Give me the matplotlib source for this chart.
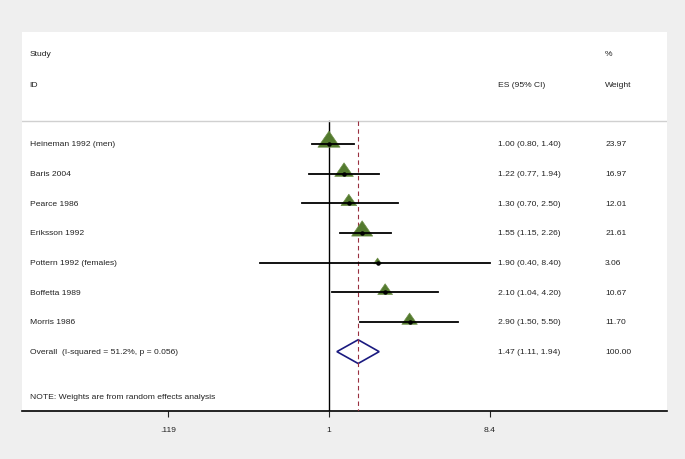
import matplotlib.pyplot as plt
import matplotlib.transforms as mtransforms
from matplotlib.path import Path
import numpy as np

# данные форест-плота
studies = ['Heineman 1992 (men)', 'Baris 2004', 'Pearce 1986', 'Eriksson 1992',
           'Pottern 1992 (females)', 'Boffetta 1989', 'Morris 1986']
es = [1.00, 1.22, 1.30, 1.55, 1.90, 2.10, 2.90]
lo = [0.80, 0.77, 0.70, 1.15, 0.40, 1.04, 1.50]
hi = [1.40, 1.94, 2.50, 2.26, 8.40, 4.20, 5.50]
weights = [23.97, 16.97, 12.01, 21.61, 3.06, 10.67, 11.70]
overall_label = 'Overall  (I-squared = 51.2%, p = 0.056)'
overall = [1.47, 1.11, 1.94]
xticks = [0.119, 1, 8.4]
xtick_labels = ['.119', '1', '8.4']

plt.rcParams['font.family'] = ['Liberation Sans', 'DejaVu Sans']

fig = plt.figure(figsize=(6.85, 4.6), dpi=100, facecolor='#efefef')
ax = fig.add_axes([22/685, 48/460, 645/685, 379/460])
ax.set_facecolor('white')
ax.set_xscale('log')
ax.set_xlim(np.exp(-4.055), np.exp(4.465))
ax.set_ylim(9.0, -3.77)

txt = dict(fontsize=6.1, color='#222222', va='center')
blend = mtransforms.blended_transform_factory(ax.transAxes, ax.transData)

# шапка
ax.text(0.012, -3.06, 'Study', transform=blend, **txt)
ax.text(0.012, -2.0, 'ID', transform=blend, **txt)
ax.text(0.738, -2.0, 'ES (95% CI)', transform=blend, **txt)
ax.text(0.904, -3.06, '%', transform=blend, **txt)
ax.text(0.904, -2.0, 'Weight', transform=blend, **txt)
ax.axhline(-0.77, color='#d0d0d0', lw=1)

rows = np.arange(len(studies))
for i in rows:
    ax.text(0.012, i, studies[i], transform=blend, **txt)
    ax.text(0.738, i, '%.2f (%.2f, %.2f)' % (es[i], lo[i], hi[i]), transform=blend, **txt)
    ax.text(0.904, i, '%.2f' % weights[i], transform=blend, **txt)
    ax.plot([lo[i], hi[i]], [i, i], color='black', lw=1.3, zorder=4)

# треугольник с центром ближе к основанию, площадь ~ вес
tri = Path([(-1, -0.3), (1, -0.3), (0, 1.15), (-1, -0.3)],
           [Path.MOVETO, Path.LINETO, Path.LINETO, Path.CLOSEPOLY])
ax.scatter(es, rows, marker=tri, s=[w * 14 for w in weights],
           color='#537a2e', edgecolors='#6f8f4a', linewidths=0.5, zorder=3)
ax.scatter(es, rows, marker='o', s=5, color='black', zorder=5)

# итог
k = len(studies)
ax.text(0.012, k, overall_label, transform=blend, **txt)
ax.text(0.738, k, '%.2f (%.2f, %.2f)' % tuple(overall), transform=blend, **txt)
ax.text(0.904, k, '100.00', transform=blend, **txt)
ax.fill([overall[1], overall[0], overall[2], overall[0], overall[1]],
        [k, k - 0.4, k, k + 0.4, k], facecolor='white', edgecolor='#1a1a80', lw=1.2, zorder=2.5)

ax.text(0.012, k + 1.5, 'NOTE: Weights are from random effects analysis', transform=blend, **txt)

# линии нуля и итоговой оценки
ax.plot([1, 1], [-0.77, 9.0], color='black', lw=1, zorder=1)
ax.plot([overall[0], overall[0]], [-0.77, 9.0], color='#9a3040', lw=0.8, ls=(0, (4, 3)), zorder=2.7)

for s in ['top', 'left', 'right']:
    ax.spines[s].set_visible(False)
ax.spines['bottom'].set_linewidth(1.2)
ax.set_yticks([])
ax.set_xticks(xticks)
ax.set_xticklabels(xtick_labels)
ax.xaxis.set_minor_locator(plt.NullLocator())
ax.tick_params(axis='x', length=4, width=0.8, labelsize=6.1, pad=7, colors='#222222')

fig.savefig('out.png', dpi=100, facecolor=fig.get_facecolor())
